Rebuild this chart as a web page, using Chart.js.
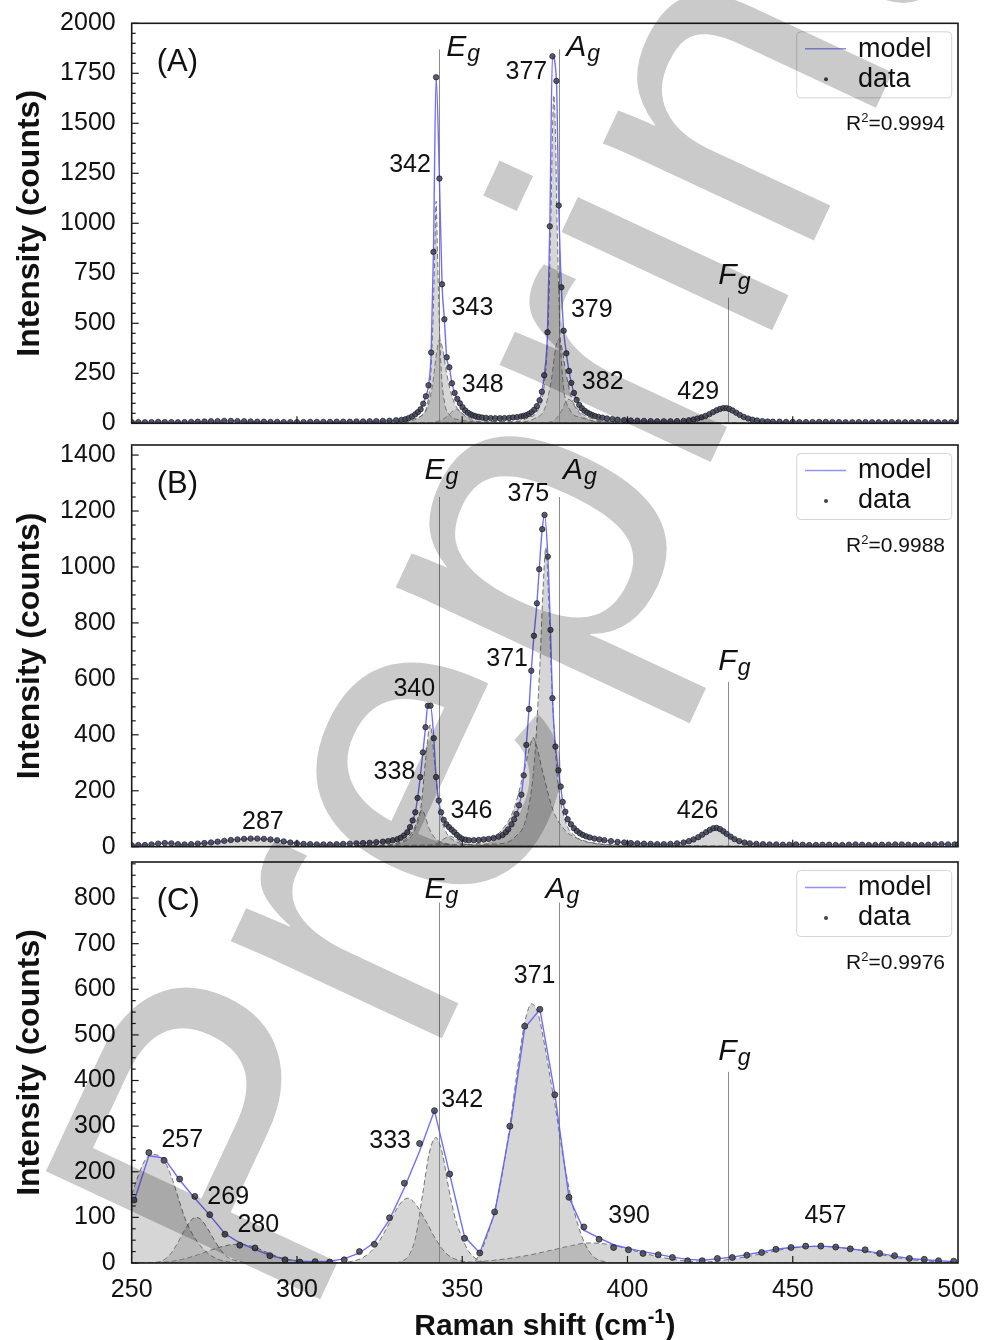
<!DOCTYPE html>
<html>
<head>
<meta charset="utf-8">
<script src="https://cdn.jsdelivr.net/npm/chart.js@4.4.1/dist/chart.umd.min.js"></script>
<style>
  body { margin: 0; background: #fff; }
  #page { position: relative; width: 984px; height: 1340px; background: #fff; overflow: hidden; }
  canvas { position: absolute; left: 0; }
</style>
</head>
<body>
<div id="page">
  <canvas id="panelA" width="984" height="440" style="top:0px"></canvas>
  <canvas id="panelB" width="984" height="430" style="top:430px"></canvas>
  <canvas id="panelC" width="984" height="488" style="top:852px"></canvas>
</div>
<script>
const FONT = 'Arial, "Liberation Sans", sans-serif';
const INK = '#111';

// Raman modes (vertical reference lines)
const modeNames = ["E", "A", "F"];
const modeShift = [343, 379.2, 430.3];

// ---------- panel A : [Raman shift, counts] ----------
const spectrumA = [
  [250,6],[252,6],[254,5],[256,6],[258,7],[260,6],[262,6],[264,5],[266,6],[268,7],[270,8],[272,9],[274,10],[276,11],
  [278,12],[280,12],[282,11],[284,10],[286,9],[288,8],[290,8],[292,7],[294,7],[296,6],[298,6],[300,6],[302,6],[304,7],
  [306,7],[308,7],[310,7],[312,8],[314,8],[316,8],[318,9],[320,9],[322,10],[324,11],[326,12],[328,13],[330,15],
  [331.6,17],[332.8,20],[333.8,26],[334.8,34],[335.8,45],[336.6,56],[337.4,70],[338.2,98],[339.0,135],[339.8,190],
  [340.6,354],[341.3,857],[342.1,1730],[343.1,1224],[343.9,695],[344.6,520],[345.3,330],[346.1,280],[346.9,200],
  [347.7,152],[348.5,122],[349.3,100],[350.1,80],[350.9,64],[351.7,53],[352.5,45],[353.3,39],[354.1,35],[355.0,32],
  [356.0,29],[357.2,27],[358.6,26],[360.0,25],[361.4,25],[362.8,26],[364.2,27],[365.4,29],[366.6,31],[367.8,34],
  [368.6,37],[369.4,41],[370.2,47],[371.0,56],[371.8,68],[372.6,86],[373.4,115],[374.1,158],[374.8,240],[375.8,455],
  [376.5,985],[377.3,1835],[378.5,1712],[379.2,1089],[380.0,680],[380.7,463],[381.5,350],[382.3,262],[383.0,202],
  [383.8,152],[384.6,117],[385.4,92],[386.2,75],[387.0,63],[387.8,54],[388.6,47],[389.4,41],[390.2,36],[391.2,32],
  [392.4,28],[393.8,24],[395.4,21],[397,18],[399,16],[401,14],[403,13],[405,12],[407,11],[409,10],[411,10],[413,10],
  [415,11],[417,12],[418.6,15],[420,19],[421.2,24],[422.4,30],[423.6,37],[424.8,46],[425.9,56],[427.0,65],[428.0,72],
  [429.0,76],[429.9,76],[430.8,72],[431.8,64],[432.9,53],[434.0,42],[435.2,32],[436.5,24],[437.8,18],[439.2,14],
  [440.8,11],[442.4,9],[444,8],[446,8],[448,7],[450,7],[452,6],[454,6],[456,6],[458,7],[460,7],[462,6],[464,6],
  [466,5],[468,5],[470,6],[472,6],[474,5],[476,5],[478,6],[480,6],[482,5],[484,5],[486,5],[488,6],[490,6],[492,5],
  [494,5],[496,5],[498,6],[500,5]
];
const peakA342 = [[250,0],[330,8],[335,22],[338,45],[339.5,100],[340.5,250],[341.2,540],[341.7,860],[342.1,1110],[342.5,860],[343.0,540],[343.7,250],[344.7,100],[346,45],[350,15],[360,4],[500,0]];
const peakA343 = [[250,0],[333,10],[337,30],[339.5,80],[341,190],[342.3,360],[343.2,420],[344.1,370],[345.3,250],[346.8,140],[348.5,75],[351,38],[355,18],[365,5],[500,0]];
const peakA348 = [[250,0],[340,3],[343,12],[345.5,35],[347.2,62],[348.3,70],[349.5,58],[351,35],[353,16],[357,5],[500,0]];
const peakA377 = [[250,0],[365,8],[370,28],[373,70],[374.8,190],[375.9,450],[376.8,1000],[377.3,1450],[377.7,1640],[378.2,1450],[378.7,1000],[379.6,450],[380.6,190],[382.5,70],[386,28],[395,8],[500,0]];
const peakA379 = [[250,0],[368,8],[372,25],[375,75],[377,220],[378.3,380],[379.2,420],[380.1,380],[381.4,250],[383,130],[385.5,60],[389,25],[395,10],[500,0]];
const peakA382 = [[250,0],[375,4],[378,18],[380,60],[381.4,110],[382.3,120],[383.3,105],[384.8,65],[387,28],[391,8],[500,0]];
const peakA429 = [[250,0],[415,2],[419,8],[422,20],[425,42],[427.5,66],[429.5,76],[431.5,66],[434,42],[437,20],[440,8],[444,2],[500,0]];
const tagsA = ["342", "343", "348", "377", "379", "382", "429"];

// ---------- panel B ----------
const spectrumB = [
  [250,5],[252,6],[254,6],[256,8],[258,11],[260,13],[262,12],[264,9],[266,8],[268,9],[270,11],[272,13],[274,15],[276,18],
  [278,21],[280,24],[282,26],[284,28],[286,29],[288,29],[290,28],[292,26],[294,23],[296,19],[298,15],[300,12],[302,10],
  [304,9],[306,8],[308,8],[310,8],[312,9],[314,10],[316,11],[318,12],[320,13],[322,14],[324,16],[326,18],[327.6,20],
  [329,23],[330.4,27],[331.4,32],[332.4,40],[333.4,52],[334.2,70],[335.0,94],[335.8,123],[336.5,174],[337.3,249],
  [338.1,337],[338.9,427],[339.6,504],[340.4,504],[341.4,388],[342.1,249],[342.9,165],[343.6,123],[344.4,96],[345.2,80],
  [346.0,70],[346.8,61],[347.6,52],[348.4,42],[349.2,34],[350.0,28],[351,25],[352,23],[353.5,23],[355,24],[356.5,26],
  [358,28],[359.5,31],[361,36],[362.2,42],[363.2,52],[363.9,62],[364.9,80],[365.7,98],[366.4,117],[367.2,148],[367.9,186],
  [368.6,255],[369.4,364],[370.2,492],[370.9,629],[371.7,754],[372.6,870],[373.3,992],[374.2,1135],[374.9,1186],
  [375.9,1037],[376.7,775],[377.3,531],[378.2,358],[379.1,273],[379.8,215],[380.4,160],[381.2,125],[381.9,98],[382.9,80],
  [383.8,66],[384.7,56],[385.6,48],[386.5,42],[387.5,37],[388.6,33],[390,29],[391.5,26],[393,23],[395,20],[397,17],
  [399,15],[401,13],[403,12],[405,11],[407,10],[409,9],[411,9],[413,10],[415,12],[417,15],[418.6,20],[420,26],[421.4,34],
  [422.6,43],[423.8,52],[424.9,60],[426,66],[427,67],[428,63],[429,55],[430,46],[431.2,36],[432.4,27],[433.8,20],
  [435.4,15],[437,12],[439,10],[441,9],[443,8],[445,8],[447,7],[449,7],[451,8],[453,7],[455,6],[457,6],[459,7],[461,7],
  [463,6],[465,6],[467,7],[469,8],[471,7],[473,6],[475,6],[477,7],[479,7],[481,8],[483,8],[485,7],[487,6],[489,6],
  [491,7],[493,8],[495,9],[497,8],[499,8],[500,8]
];
const peakB287 = [[250,0],[262,2],[270,8],[278,18],[284,25],[288,27],[292,25],[298,16],[306,6],[315,1],[500,0]];
const peakB338 = [[250,0],[325,4],[330,12],[333,28],[335.5,65],[337,115],[337.8,132],[338.7,112],[340,65],[342,28],[345,12],[350,4],[500,0]];
const peakB340 = [[250,0],[328,6],[333,22],[335.5,55],[337.5,140],[339,320],[340.3,436],[341.5,320],[343,140],[345,55],[347.5,22],[352,8],[360,3],[500,0]];
const peakB346 = [[250,0],[338,2],[342,10],[344.5,28],[346.2,38],[348,28],[350.5,10],[355,2],[500,0]];
const peakB371 = [[250,0],[352,8],[358,25],[362,60],[365.5,130],[368.5,260],[370.5,360],[371.5,390],[372.5,360],[374.5,260],[377.5,130],[381,60],[386,25],[395,8],[500,0]];
const peakB375 = [[250,0],[360,10],[366,35],[369.5,110],[371.8,300],[373.5,650],[374.5,930],[375.3,1070],[376.1,900],[377.1,580],[378.8,250],[381,100],[384.5,35],[390,12],[400,4],[500,0]];
const peakB426 = [[250,0],[410,2],[414,6],[418,15],[421.5,32],[424.5,55],[426.5,66],[428.5,55],[431.5,32],[435,15],[439,6],[443,2],[500,0]];
const tagsB = ["287", "340", "338", "346", "371", "375", "426"];

// ---------- panel C ----------
const spectrumC = [
  [250.7,138],[255.2,242],[259.8,225],[264.5,184],[269.1,146],[273.6,106],[278.2,63],[282.7,39],[287.3,33],[291.8,16],
  [296.4,7],[300.9,2],[305.5,3],[309.9,2],[314.3,7],[318.9,25],[323.4,41],[328.0,99],[332.5,175],[337.1,262],[341.6,334],
  [346.2,195],[350.7,54],[355.3,22],[359.8,112],[364.4,300],[368.9,519],[373.5,556],[378.0,369],[382.3,144],[386.8,79],
  [391.4,52],[395.8,34],[400.3,29],[404.7,21],[409.3,18],[413.6,12],[418.2,5],[422.6,5],[427.2,10],[431.7,12],[436.1,17],
  [440.6,23],[444.9,30],[449.5,34],[453.9,37],[458.5,37],[463.0,35],[467.4,31],[471.9,29],[476.3,21],[480.8,16],
  [485.3,10],[489.8,8],[494.1,5],[498.7,4]
];
const modelC = [
  [250.7,135],[255.2,235],[259.8,230],[264.5,182],[269.1,142],[273.6,105],[278.2,64],[282.7,44],[287.3,30],[291.8,17],
  [296.4,8],[300.9,4],[305.5,3],[309.9,4],[314.3,9],[318.9,22],[323.4,45],[328.0,95],[332.5,165],[337.1,245],[341.6,334],
  [346.2,195],[350.7,58],[355.3,22],[359.8,108],[364.4,290],[368.9,515],[373.5,556],[378.0,372],[382.3,144],[386.8,72],
  [391.4,55],[395.8,40],[400.3,32],[404.7,25],[409.3,19],[413.6,13],[418.2,8],[422.6,6],[427.2,9],[431.7,13],[436.1,18],
  [440.6,24],[444.9,30],[449.5,34],[453.9,36],[458.5,37],[463.0,35],[467.4,31],[471.9,27],[476.3,21],[480.8,15],
  [485.3,10],[489.8,7],[494.1,5],[498.7,3]
];
const peakC257 = [[250,150],[252,192],[254,225],[256,238],[258,236],[260,222],[262,190],[264,145],[266,100],[268,68],[270,45],[272,28],[274,16],[277,6],[281,1],[288,0],[500,0]];
const peakC269 = [[250,0],[258,2],[260,8],[262,22],[264,45],[266,72],[268,94],[269.5,100],[271,95],[273,75],[275,50],[277,28],[279,13],[282,4],[286,0],[500,0]];
const peakC280 = [[250,0],[258,1],[264,6],[270,18],[275,31],[280,40],[283,41],[287,35],[291,23],[295,12],[300,4],[306,1],[500,0]];
const peakC333 = [[250,0],[312,0],[316,3],[320,12],[324,38],[328,88],[331,128],[333.5,142],[336,128],[339,92],[342,52],[345,22],[348,8],[352,2],[358,0],[500,0]];
const peakC342 = [[250,0],[329,0],[332,5],[334,18],[336,60],[338,150],[340,240],[342,275],[344,240],[346,160],[348,95],[350,55],[352,25],[355,6],[360,0],[500,0]];
const peakC371 = [[250,0],[352,0],[355,15],[357.3,55],[360,120],[362,190],[364.4,300],[367,440],[369,530],[371,568],[373,545],[375,475],[377,390],[378,350],[380,255],[382,175],[384,110],[386,62],[388,30],[390,12],[393,3],[397,0],[500,0]];
const peakC390 = [[250,0],[345,0],[355,3],[362,8],[370,17],[377,28],[383,38],[388,44],[393,42],[398,35],[403,25],[408,16],[413,9],[418,4],[425,1],[500,0]];
const peakC457 = [[250,0],[420,0],[425,3],[431,8],[437,15],[443,24],[449,32],[455,36],[458,37],[461,36],[467,32],[473,24],[479,15],[485,8],[491,4],[497,2],[500,1]];
const tagsC = ["257", "269", "280", "333", "342", "371", "390", "457"];

// tick labels
const shiftTicks = [250, 300, 350, 400, 450, 500];
const countTicksA = [0, 250, 500, 750, 1000, 1250, 1500, 1750, 2000];
const countTicksB = [0, 200, 400, 600, 800, 1000, 1200, 1400];
const countTicksC = [0, 100, 200, 300, 400, 500, 600, 700, 800];

// watermark
const stampText = "Preprint";

const panels = [
  {
    id: "panelA", top: 0, band: [0, 435], padTop: 23.3, padBottom: 16.7, showX: false,
    yMax: 2000, yTicks: countTicksA, minor: 50, dot: 2.7, smooth: true,
    spectrum: spectrumA, model: spectrumA,
    peaks: [peakA342, peakA343, peakA348, peakA377, peakA379, peakA382, peakA429],
    tags: tagsA, tagAt: [[334.2,1292],[353.1,577],[356.2,191],[369.4,1754],[389.2,567],[392.5,204],[421.4,158]],
    letter: "(A)", r2: "0.9994",
    lineTop: 1870, fgTop: 628, labelY: 1839, fgLabelY: 699, labelX: [345.2, 381.5, 427.5]
  },
  {
    id: "panelB", top: 430, band: [435, 856], padTop: 15, padBottom: 13.3, showX: false,
    yMax: 1436, yTicks: countTicksB, minor: 50, dot: 2.7, smooth: true,
    spectrum: spectrumB, model: spectrumB,
    peaks: [peakB287, peakB338, peakB340, peakB346, peakB371, peakB375, peakB426],
    tags: tagsB, tagAt: [[289.7,88],[335.5,564],[329.5,267],[352.8,128],[363.6,671],[370.0,1261],[421.2,128]],
    letter: "(B)", r2: "0.9988",
    lineTop: 1250, fgTop: 589, labelY: 1314, fgLabelY: 632, labelX: [338.6, 380.5, 427.5]
  },
  {
    id: "panelC", top: 852, band: [856, 1340], padTop: 10, padBottom: 0, showX: true,
    yMax: 879, yTicks: countTicksC, minor: 25, dot: 3, smooth: false,
    spectrum: spectrumC, model: modelC,
    peaks: [peakC257, peakC269, peakC280, peakC333, peakC342, peakC371, peakC390, peakC457],
    tags: tagsC, tagAt: [[265.3,270],[279.2,145],[288.3,84],[328.2,268],[350.0,356],[371.9,628],[400.5,102],[459.9,102]],
    letter: "(C)", r2: "0.9976",
    lineTop: 790, fgTop: 419, labelY: 801, fgLabelY: 446, labelX: [338.6, 375.2, 427.5]
  }
];

function toPoints(pairs) {
  return pairs.map(p => ({ x: p[0], y: p[1] }));
}

function line(ctx, x1, y1, x2, y2) {
  ctx.beginPath();
  ctx.moveTo(x1, y1);
  ctx.lineTo(x2, y2);
  ctx.stroke();
}

function drawStamp(chart, p) {
  const ctx = chart.ctx;
  ctx.save();
  ctx.beginPath();
  ctx.rect(0, p.band[0] - p.top, 984, p.band[1] - p.band[0]);
  ctx.clip();
  ctx.globalCompositeOperation = "multiply";
  ctx.fillStyle = "rgb(202,202,202)";
  ctx.translate(305, 1332 - p.top);
  ctx.rotate(-65 * Math.PI / 180);
  ctx.font = '440px "Liberation Sans", Arial, sans-serif';
  ctx.textBaseline = "alphabetic";
  ctx.fillText(stampText, 0, 0);
  ctx.restore();
}

function decor(p) {
  return {
    id: "decor",
    beforeDatasetsDraw(chart) {
      const { ctx, chartArea: a, scales: { x, y } } = chart;
      ctx.save();
      ctx.strokeStyle = "#8c8c8c";
      ctx.lineWidth = 1;
      modeShift.forEach((m, i) => {
        const px = Math.round(x.getPixelForValue(m)) + 0.5;
        const top = y.getPixelForValue(i < 2 ? p.lineTop : p.fgTop);
        line(ctx, px, top, px, a.bottom);
      });
      ctx.restore();
    },
    afterDraw(chart) {
      const { ctx, chartArea: a, scales: { x, y } } = chart;
      ctx.save();

      // frame + inward ticks
      ctx.strokeStyle = "#1a1a1a";
      ctx.lineWidth = 1.6;
      ctx.strokeRect(a.left, a.top, a.right - a.left, a.bottom - a.top);
      ctx.lineWidth = 1.2;
      const step = p.yTicks[1];
      for (let v = 0; v <= p.yMax + 0.01; v += p.minor) {
        const py = y.getPixelForValue(v);
        line(ctx, a.left, py, a.left + (v % step === 0 ? 7 : 4), py);
      }
      shiftTicks.slice(1, -1).forEach(v => {
        const px = x.getPixelForValue(v);
        line(ctx, px, a.bottom, px, a.bottom - 7);
      });

      // peak position tags
      ctx.fillStyle = INK;
      ctx.font = "25px " + FONT;
      ctx.textAlign = "center";
      ctx.textBaseline = "middle";
      p.tags.forEach((t, i) => {
        ctx.fillText(t, x.getPixelForValue(p.tagAt[i][0]), y.getPixelForValue(p.tagAt[i][1]));
      });

      // mode symbols E_g, A_g, F_g
      ctx.textAlign = "left";
      ctx.textBaseline = "alphabetic";
      modeNames.forEach((n, i) => {
        const px = x.getPixelForValue(p.labelX[i]);
        const py = y.getPixelForValue(i < 2 ? p.labelY : p.fgLabelY);
        ctx.font = "italic 30px " + FONT;
        ctx.fillText(n, px, py);
        const w = ctx.measureText(n).width;
        ctx.font = "italic 23px " + FONT;
        ctx.fillText("g", px + w + 1, py + 5);
      });

      // panel letter
      ctx.font = "31px " + FONT;
      ctx.fillText(p.letter, a.left + 25, a.top + 48);

      // legend
      const bx = a.right - 161.3, by = a.top + 8.5;
      ctx.beginPath();
      ctx.roundRect(bx, by, 155, 66, 4);
      ctx.fillStyle = "rgba(255,255,255,0.9)";
      ctx.fill();
      ctx.strokeStyle = "#d4d4d4";
      ctx.lineWidth = 1;
      ctx.stroke();
      ctx.strokeStyle = "rgba(110,110,240,0.75)";
      ctx.lineWidth = 1.5;
      line(ctx, a.right - 153, a.top + 25.5, a.right - 112, a.top + 25.5);
      ctx.fillStyle = "#444";
      ctx.beginPath();
      ctx.arc(a.right - 132, a.top + 56, 2, 0, Math.PI * 2);
      ctx.fill();
      ctx.fillStyle = INK;
      ctx.font = "27px " + FONT;
      ctx.textBaseline = "middle";
      ctx.fillText("model", a.right - 100, a.top + 26);
      ctx.fillText("data", a.right - 100, a.top + 56);

      // R^2
      ctx.textBaseline = "alphabetic";
      ctx.font = "21px " + FONT;
      const rest = "=" + p.r2;
      const wR = ctx.measureText("R").width, wRest = ctx.measureText(rest).width;
      ctx.font = "13px " + FONT;
      const w2 = ctx.measureText("2").width;
      const rx = a.right - 13 - wRest - w2 - wR;
      const ry = a.top + 107;
      ctx.font = "21px " + FONT;
      ctx.fillText("R", rx, ry);
      ctx.fillText(rest, rx + wR + w2, ry);
      ctx.font = "13px " + FONT;
      ctx.fillText("2", rx + wR, ry - 8);

      // x axis title (bottom panel)
      if (p.showX) {
        const main = "Raman shift (cm", sup = "-1", close = ")";
        ctx.font = "bold 30px " + FONT;
        const w1 = ctx.measureText(main).width, w3 = ctx.measureText(close).width;
        ctx.font = "bold 20px " + FONT;
        const ws = ctx.measureText(sup).width;
        const tx = (a.left + a.right) / 2 - (w1 + ws + w3) / 2;
        const ty = 1335 - p.top;
        ctx.font = "bold 30px " + FONT;
        ctx.fillText(main, tx, ty);
        ctx.font = "bold 20px " + FONT;
        ctx.fillText(sup, tx + w1, ty - 12);
        ctx.font = "bold 30px " + FONT;
        ctx.fillText(close, tx + w1 + ws, ty);
      }
      ctx.restore();

      drawStamp(chart, p);
    }
  };
}

function buildPanel(p) {
  const datasets = [
    {
      label: "data", data: toPoints(p.spectrum), showLine: false, order: 0,
      pointRadius: p.dot, pointBackgroundColor: "rgba(66,68,82,0.85)",
      pointBorderColor: "rgba(25,25,35,0.9)", pointBorderWidth: 0.8
    },
    {
      label: "model", data: toPoints(p.model), order: 1, fill: false,
      borderColor: "rgba(95,95,245,0.9)", borderWidth: 1.4, pointRadius: 0,
      cubicInterpolationMode: p.smooth ? "monotone" : "default", tension: 0
    }
  ];
  p.peaks.forEach(pk => {
    datasets.push({
      label: "peak", data: toPoints(pk), order: 2, fill: "origin",
      backgroundColor: "rgba(128,128,128,0.32)", borderColor: "rgba(95,95,95,0.85)",
      borderWidth: 1, borderDash: [5, 3], pointRadius: 0, cubicInterpolationMode: "monotone"
    });
  });

  const xAxis = {
    type: "linear", min: 250, max: 500, display: p.showX,
    grid: { display: false, drawTicks: false },
    border: { display: false },
    ticks: {
      padding: 12, color: INK, maxRotation: 0, autoSkip: false,
      font: { size: 25, family: FONT }, callback: v => String(v)
    },
    afterBuildTicks: s => { s.ticks = shiftTicks.map(v => ({ value: v })); }
  };
  if (p.showX) {
    xAxis.afterFit = s => { s.height = 77; s.paddingLeft = 0; s.paddingRight = 0; };
  }

  return new Chart(document.getElementById(p.id), {
    type: "line",
    data: { datasets },
    options: {
      responsive: false,
      animation: false,
      devicePixelRatio: 1,
      events: [],
      layout: { padding: { top: p.padTop, right: 26, bottom: p.padBottom, left: 0 } },
      plugins: { legend: { display: false }, tooltip: { enabled: false } },
      scales: {
        x: xAxis,
        y: {
          min: 0, max: p.yMax,
          grid: { display: false, drawTicks: false },
          border: { display: false },
          ticks: {
            padding: 16, color: INK, autoSkip: false,
            font: { size: 25, family: FONT }, callback: v => String(v)
          },
          afterBuildTicks: s => { s.ticks = p.yTicks.map(v => ({ value: v })); },
          title: {
            display: true, text: "Intensity (counts)", color: INK,
            font: { size: 32, weight: "bold", family: FONT }, padding: { top: 11, bottom: 0 }
          },
          afterFit: s => { s.width = 131.7; s.paddingTop = 0; s.paddingBottom = 0; }
        }
      }
    },
    plugins: [decor(p)]
  });
}

panels.forEach(buildPanel);
</script>
</body>
</html>
